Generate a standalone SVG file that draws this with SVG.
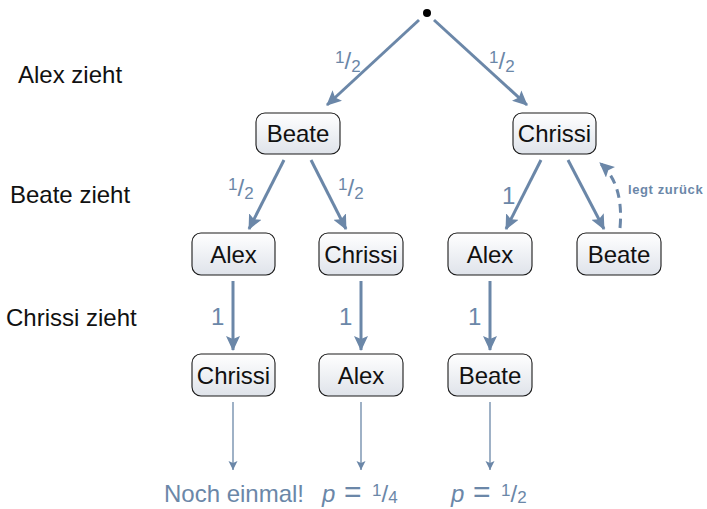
<svg xmlns="http://www.w3.org/2000/svg" width="707" height="509" viewBox="0 0 707 509">
<defs>
<linearGradient id="g" x1="0" y1="0" x2="0" y2="1">
<stop offset="0" stop-color="#ffffff"/>
<stop offset="1" stop-color="#dfe3ea"/>
</linearGradient>
<marker id="ah" markerUnits="userSpaceOnUse" markerWidth="16" markerHeight="14" refX="14" refY="7" orient="auto">
<path d="M0,0 L15,7 L0,14 L3,7 Z" fill="#6b87a8"/>
</marker>
<marker id="as" markerUnits="userSpaceOnUse" markerWidth="10" markerHeight="10" refX="9" refY="5" orient="auto">
<path d="M0,0.5 L9,5 L0,9.5 L2,5 Z" fill="#6b87a8"/>
</marker>
</defs>
<style>
.n rect{fill:url(#g);stroke:#1a1a1a;stroke-width:1.1}
.n text{font-family:"Liberation Sans",Arial,sans-serif;font-size:24px;fill:#111;text-anchor:middle}
.c{stroke:#6b87a8;fill:none}
.t{stroke-width:3;marker-end:url(#ah)}
.s{stroke-width:1.3;marker-end:url(#as)}
.lb{font-family:"Liberation Sans",Arial,sans-serif;fill:#6b87a8;font-size:24px}
.sm{font-size:17px}
.rl{font-family:"Liberation Sans",Arial,sans-serif;font-size:24px;fill:#111}
</style>
<circle cx="427" cy="13" r="4" fill="#000"/>
<g id="row-labels">
<text class="rl" x="18" y="83">Alex zieht</text>
<text class="rl" x="10" y="203">Beate zieht</text>
<text class="rl" x="6" y="326">Chrissi zieht</text>
</g>
<g id="connectors">
<line class="c t" x1="419" y1="20" x2="327" y2="105"/>
<line class="c t" x1="434" y1="20" x2="527" y2="105"/>
<line class="c t" x1="284" y1="160" x2="249" y2="229"/>
<line class="c t" x1="311" y1="160" x2="346" y2="229"/>
<line class="c t" x1="541" y1="160" x2="506" y2="229"/>
<line class="c t" x1="568" y1="160" x2="604" y2="229"/>
<path class="c t" d="M620,228 Q624,184 600,163" stroke-dasharray="9,6"/>
<line class="c t" x1="233" y1="281" x2="233" y2="350"/>
<line class="c t" x1="361" y1="281" x2="361" y2="350"/>
<line class="c t" x1="490" y1="281" x2="490" y2="350"/>
<line class="c s" x1="233" y1="402" x2="233" y2="470"/>
<line class="c s" x1="361" y1="402" x2="361" y2="470"/>
<line class="c s" x1="490" y1="402" x2="490" y2="470"/>
<text class="lb" x="335" y="69"><tspan class="sm" dy="-6">1</tspan><tspan dy="6">/</tspan><tspan class="sm" dy="3">2</tspan></text>
<text class="lb" x="489" y="69"><tspan class="sm" dy="-6">1</tspan><tspan dy="6">/</tspan><tspan class="sm" dy="3">2</tspan></text>
<text class="lb" x="228" y="196"><tspan class="sm" dy="-6">1</tspan><tspan dy="6">/</tspan><tspan class="sm" dy="3">2</tspan></text>
<text class="lb" x="338" y="196"><tspan class="sm" dy="-6">1</tspan><tspan dy="6">/</tspan><tspan class="sm" dy="3">2</tspan></text>
<text class="lb" x="502" y="204">1</text>
<text class="lb" x="628" y="194" style="font-size:13px;font-weight:bold;letter-spacing:0.6px">legt zurück</text>
<text class="lb" x="211" y="325">1</text>
<text class="lb" x="339" y="325">1</text>
<text class="lb" x="468" y="325">1</text>
<text class="lb" x="234" y="502" text-anchor="middle">Noch einmal!</text>
<text class="lb" y="502"><tspan x="322" font-style="italic">p</tspan><tspan x="344" style="font-size:30px">=</tspan><tspan x="372" class="sm" dy="-6">1</tspan><tspan dy="6">/</tspan><tspan class="sm" dy="1">4</tspan></text>
<text class="lb" y="502"><tspan x="451" font-style="italic">p</tspan><tspan x="473" style="font-size:30px">=</tspan><tspan x="501" class="sm" dy="-6">1</tspan><tspan dy="6">/</tspan><tspan class="sm" dy="1">2</tspan></text>
</g>
<g id="n-beate-1" class="n"><rect x="256" y="113" width="84" height="41" rx="9"/><text x="298" y="142">Beate</text></g>
<g id="n-chrissi-1" class="n"><rect x="513" y="113" width="83" height="41" rx="9"/><text x="554.5" y="142">Chrissi</text></g>
<g id="n-alex-2a" class="n"><rect x="192" y="233" width="83" height="42" rx="9"/><text x="233.5" y="263">Alex</text></g>
<g id="n-chrissi-2" class="n"><rect x="319" y="233" width="84" height="42" rx="9"/><text x="361" y="263">Chrissi</text></g>
<g id="n-alex-2b" class="n"><rect x="448" y="233" width="84" height="42" rx="9"/><text x="490" y="263">Alex</text></g>
<g id="n-beate-2" class="n"><rect x="577" y="233" width="84" height="42" rx="9"/><text x="619" y="263">Beate</text></g>
<g id="n-chrissi-3" class="n"><rect x="192" y="354" width="83" height="42" rx="9"/><text x="233.5" y="384">Chrissi</text></g>
<g id="n-alex-3" class="n"><rect x="319" y="354" width="84" height="42" rx="9"/><text x="361" y="384">Alex</text></g>
<g id="n-beate-3" class="n"><rect x="448" y="354" width="84" height="42" rx="9"/><text x="490" y="384">Beate</text></g>
</svg>
